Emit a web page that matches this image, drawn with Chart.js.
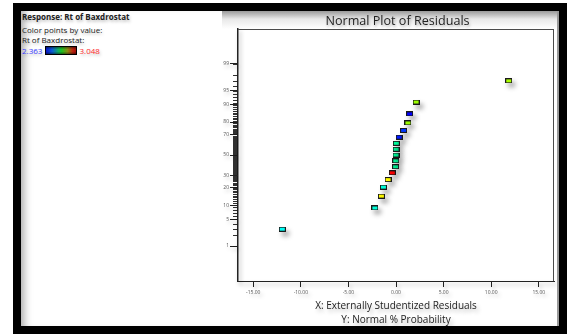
<!DOCTYPE html>
<html><head><meta charset="utf-8">
<script src="https://cdn.jsdelivr.net/npm/chart.js@4.4.0/dist/chart.umd.min.js"></script>
<style>
html,body{margin:0;padding:0;background:#fff;width:569px;height:334px;overflow:hidden;font-family:"Open Sans",sans-serif;}
#frame{position:absolute;left:13px;top:3px;width:554px;height:331px;box-sizing:border-box;border:8px solid #000;z-index:10;pointer-events:none;}
#inner{position:absolute;left:21px;top:11px;width:538px;height:315px;background:#fff;box-shadow:inset 9px 0 8px -6px rgba(0,0,0,0.35);}
#edge{position:absolute;left:557px;top:11px;width:2px;height:315px;background:#9a9a9a;z-index:6;}
#header{position:absolute;left:222px;top:11px;width:337px;height:18px;background:linear-gradient(#9a9a9a,#e8e8e8 45%,#fff);}
#title{position:absolute;left:238px;width:319px;top:13px;line-height:15px;font-size:12.6px;color:#222;text-align:center;z-index:7;text-shadow:1px 2px 3px rgba(0,0,0,0.3);}
.lp{position:absolute;left:22px;font-size:8px;line-height:10px;color:#222;white-space:nowrap;z-index:7;text-shadow:1px 2px 3px rgba(0,0,0,0.25);}
#bar{position:absolute;left:45px;top:46px;width:32px;height:9px;box-sizing:border-box;border:1px solid #000;z-index:7;
background:linear-gradient(rgba(0,0,0,0.45),rgba(0,0,0,0) 35%,rgba(0,0,0,0) 65%,rgba(0,0,0,0.45)),linear-gradient(to right,#0a14c8,#0a5ad8 20%,#10b060 42%,#1cc020 52%,#8a8a10 72%,#c02010 90%,#a01008);}
#chartbox{position:absolute;left:200px;top:11px;width:359px;height:316px;z-index:5;}
</style></head>
<body>
<div id="inner"></div>
<div id="header"></div>
<div id="edge"></div>
<div id="title">Normal Plot of Residuals</div>
<div class="lp" style="top:12px;font-weight:bold;">Response: Rt of Baxdrostat</div>
<div class="lp" style="top:24.5px;">Color points by value:</div>
<div class="lp" style="top:34.5px;">Rt of Baxdrostat:</div>
<div class="lp" style="top:46px;color:#3a3aff;">2.363</div>
<div id="bar"></div>
<div class="lp" style="top:46px;left:79.5px;color:#ff2a2a;">3.048</div>
<div id="chartbox"><canvas id="c" width="359" height="316"></canvas></div>
<div id="frame"></div>
<script>
// ---- data ----
const residuals = [-11.95, -2.22, -1.53, -1.32, -0.83, -0.39, -0.04, -0.02, 0.0, 0.01, 0.03, 0.34, 0.80, 1.25, 1.43, 2.11, 11.84];
const normalPct = [2.9, 8.8, 14.7, 20.6, 26.5, 32.4, 38.2, 44.1, 50.0, 55.9, 61.8, 67.6, 73.5, 79.4, 85.3, 91.2, 97.1];
const responseRt = [2.54, 2.56, 2.88, 2.56, 2.88, 3.048, 2.60, 2.60, 2.60, 2.60, 2.60, 2.38, 2.40, 2.81, 2.363, 2.81, 2.82];
const rtMin = 2.363, rtMax = 3.048;
const yTickPercents = [1, 5, 10, 20, 30, 50, 70, 80, 90, 95, 99];
const xTickValues = [-15, -10, -5, 0, 5, 10, 15];

// inverse normal CDF (Acklam) - axis transform for probability scale
function probit(p){
  const a=[-3.969683028665376e+01,2.209460984245205e+02,-2.759285104469687e+02,1.383577518672690e+02,-3.066479806614716e+01,2.506628277459239e+00];
  const b=[-5.447609879822406e+01,1.615858368580409e+02,-1.556989798598866e+02,6.680131188771972e+01,-1.328068155288572e+01];
  const c=[-7.784894002430293e-03,-3.223964580411365e-01,-2.400758277161838e+00,-2.549732539343734e+00,4.374664141464968e+00,2.938163982698783e+00];
  const d=[7.784695709041462e-03,3.224671290700398e-01,2.445134137142996e+00,3.754408661907416e+00];
  const pl=0.02425, ph=1-pl; let q,r;
  if(p<pl){q=Math.sqrt(-2*Math.log(p));return (((((c[0]*q+c[1])*q+c[2])*q+c[3])*q+c[4])*q+c[5])/((((d[0]*q+d[1])*q+d[2])*q+d[3])*q+1);}
  if(p>ph){q=Math.sqrt(-2*Math.log(1-p));return -(((((c[0]*q+c[1])*q+c[2])*q+c[3])*q+c[4])*q+c[5])/((((d[0]*q+d[1])*q+d[2])*q+d[3])*q+1);}
  q=p-0.5;r=q*q;
  return (((((a[0]*r+a[1])*r+a[2])*r+a[3])*r+a[4])*r+a[5])*q/(((((b[0]*r+b[1])*r+b[2])*r+b[3])*r+b[4])*r+1);
}
function rtColor(v){
  const t=Math.max(0,Math.min(1,(v-rtMin)/(rtMax-rtMin)));
  return 'hsl('+(240*(1-t)).toFixed(1)+',100%,50%)';
}
function marker(color){
  const cv=document.createElement('canvas'); cv.width=7; cv.height=5;
  const g=cv.getContext('2d');
  g.fillStyle='#1a1a1a'; g.fillRect(0,0,7,5);
  g.fillStyle=color; g.fillRect(1,1,5,3);
  return cv;
}
const FONT='"Open Sans", sans-serif';

const shadowPlugin={
  id:'shadow',
  beforeDraw(chart){const c=chart.ctx;c.save();c.shadowColor='rgba(0,0,0,0.3)';c.shadowBlur=4;c.shadowOffsetX=2;c.shadowOffsetY=3;},
  beforeDatasetsDraw(chart){const c=chart.ctx;c.shadowColor='rgba(0,0,0,0.38)';c.shadowBlur=5;c.shadowOffsetX=3;c.shadowOffsetY=4;},
  afterDraw(chart){chart.ctx.restore();}
};
const framePlugin={
  id:'frameTicks',
  afterDatasetsDraw(chart){
    const {ctx,chartArea:a,scales:{y}}=chart;
    ctx.save();
    ctx.shadowColor='rgba(0,0,0,0)';
    ctx.strokeStyle='#4a4a4a'; ctx.lineWidth=1;
    ctx.beginPath();
    ctx.moveTo(a.left,a.top+0.5); ctx.lineTo(a.right,a.top+0.5);
    ctx.moveTo(a.right-0.5,a.top); ctx.lineTo(a.right-0.5,a.bottom);
    ctx.stroke();
    ctx.strokeStyle='rgba(25,25,25,0.9)';
    ctx.beginPath();
    for(let p=1;p<=99;p++){
      const py=Math.round(y.getPixelForValue(probit(p/100)))+0.5;
      ctx.moveTo(a.left-5,py); ctx.lineTo(a.left,py);
    }
    ctx.stroke();
    ctx.restore();
  }
};

new Chart(document.getElementById('c'),{
  type:'scatter',
  data:{datasets:[{
    data:residuals.map((x,i)=>({x:x,y:probit(normalPct[i]/100)})),
    pointStyle:responseRt.map(v=>marker(rtColor(v))),
    pointRadius:4
  }]},
  options:{
    responsive:false, animation:false, devicePixelRatio:1,
    layout:{padding:{left:0,right:2,top:18,bottom:0}},
    plugins:{legend:{display:false},title:{display:false},tooltip:{enabled:false}},
    scales:{
      x:{type:'linear',min:-16.6,max:16.6,
        afterBuildTicks:s=>{s.ticks=xTickValues.map(v=>({value:v}));},
        afterFit:s=>{s.height=46;},
        grid:{drawOnChartArea:false,drawTicks:true,tickLength:6,color:'#222',lineWidth:1},
        border:{display:true,color:'#222',width:1},
        ticks:{autoSkip:false,maxRotation:0,padding:3,color:'#555',font:{size:5,family:FONT},callback:v=>Number(v).toFixed(2)},
        title:{display:true,text:['X: Externally Studentized Residuals','Y: Normal % Probability'],color:'#222',font:{size:10,family:FONT,lineHeight:1.4},padding:{top:0,bottom:0}}
      },
      y:{type:'linear',min:-3.22,max:3.22,
        afterBuildTicks:s=>{s.ticks=yTickPercents.map(p=>({value:probit(p/100)}));},
        afterFit:s=>{s.width=38;},
        grid:{drawOnChartArea:false,drawTicks:true,tickLength:8,color:'#222',lineWidth:1},
        border:{display:true,color:'#222',width:1.5},
        ticks:{autoSkip:false,padding:1,color:'#555',font:{size:5,family:FONT},callback:(v,i)=>String(yTickPercents[i])}
      }
    }
  },
  plugins:[shadowPlugin,framePlugin]
});
</script>
</body></html>
